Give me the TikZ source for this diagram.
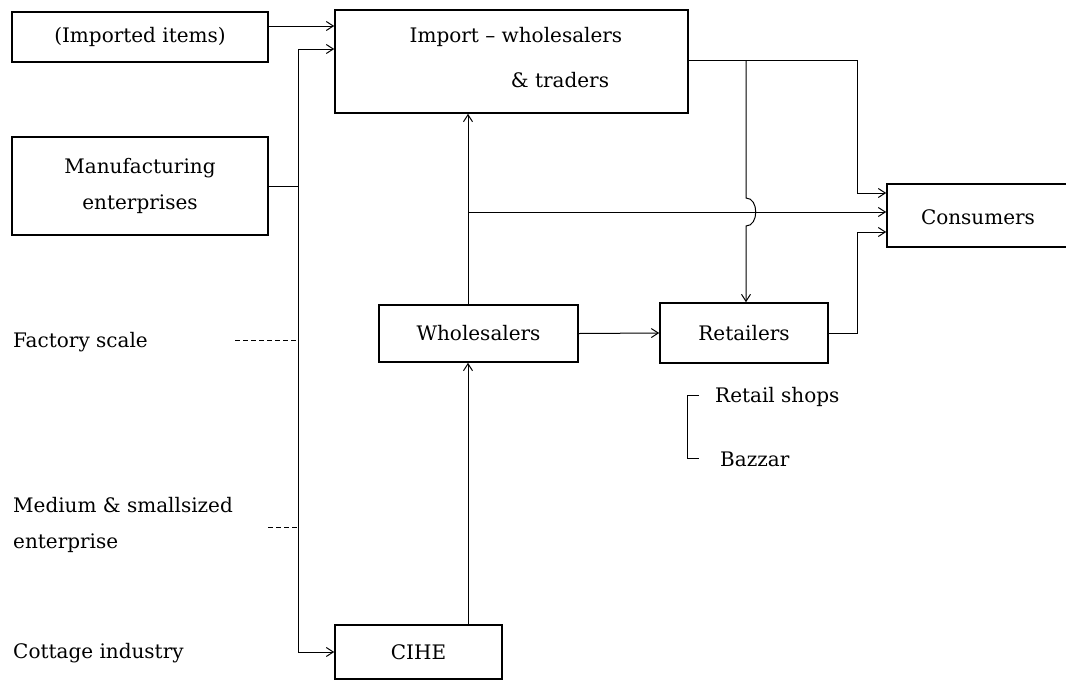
\documentclass[tikz,border=0pt]{standalone}
\usepackage{fontspec}
\setmainfont{DejaVu Serif}
\usetikzlibrary{arrows.meta}
\newcommand{\lbl}{\fontsize{20}{36}\selectfont}

\begin{document}
\begin{tikzpicture}[x=1pt,y=-1pt,font=\lbl,
  box/.style={draw,line width=1.6pt,inner sep=0pt},
  link/.style={line width=1pt},
  arr/.style={link,-{Straight Barb[length=7pt,width=9pt]}},
  dashlink/.style={line width=0.8pt,dash pattern=on 5pt off 3pt},
  txt/.style={inner sep=0pt,anchor=west,align=left}]
  \useasboundingbox (0,0) rectangle (1066,681);
  \node[box,minimum width=256pt,minimum height=50pt] (imported) at (140,37) {(Imported items)};
  \node[box,minimum width=353pt,minimum height=103pt] (impw) at (511.5,61.5) {};
  \node[inner sep=0pt] (impw1) at (516,37) {Import -- wholesalers};
  \node[inner sep=0pt] (impw2) at (560,80) {\& traders};
  \node[box,minimum width=256pt,minimum height=98pt,align=center] (manuf) at (140,186) {Manufacturing\\enterprises};
  \node[box,minimum width=186pt,minimum height=63pt] (cons) at (980,215.5) {};
  \node[inner sep=0pt] (cons1) at (978,217) {Consumers};
  \node[box,minimum width=199pt,minimum height=57pt] (whole) at (478.5,333.5) {Wholesalers};
  \node[box,minimum width=168pt,minimum height=60pt] (retail) at (744,333) {Retailers};
  \node[box,minimum width=167pt,minimum height=54pt] (cihe) at (418.5,652) {CIHE};
  \node[txt] (factory) at (13,342) {Factory scale};
  \node[txt] (medium) at (13,525) {Medium \& smallsized\\enterprise};
  \node[txt] (cottage) at (13,653) {Cottage industry};
  \node[txt] (shops) at (715,397) {Retail shops};
  \node[txt] (bazzar) at (720,459) {Bazzar};

  \coordinate (bustop) at (298,49);
  \coordinate (upx) at (468,212);
  \coordinate (tb) at (746,60);
  \coordinate (tr) at (857,60);
  \coordinate (fdash) at (235,340);
  \coordinate (mdash) at (268,527);

  \draw[arr] (imported.east |- 0,26) -- (impw.west |- 0,26);
  \draw[arr] (bustop) -- (impw.west |- bustop);
  \draw[arr] (bustop) -- (bustop |- cihe.west) -- (cihe.west);
  \draw[link] (manuf.east) -- (manuf.east -| bustop);
  \draw[dashlink] (fdash) -- (fdash -| bustop);
  \draw[dashlink] (mdash) -- (mdash -| bustop);

  \draw[arr] (cihe.north -| upx) -- (whole.south -| upx);
  \draw[arr] (whole.north -| upx) -- (impw.south -| upx);
  \draw[arr] (upx) -- (cons.west |- upx);
  \draw[arr] (whole.east) -- (retail.west);

  \draw[arr] (impw.east |- tr) -- (tr) |- (cons.west |- 0,193);
  \draw[arr] (tb) -- (746,198) .. controls (759,198) and (759,226) .. (746,226) -- (retail.north -| tb);
  \draw[arr] (retail.east) -- (retail.east -| tr) |- (cons.west |- 0,232);

  \draw[link] (699,395) -- (687,395) -- (687,458) -- (699,458);
\end{tikzpicture}
\end{document}
